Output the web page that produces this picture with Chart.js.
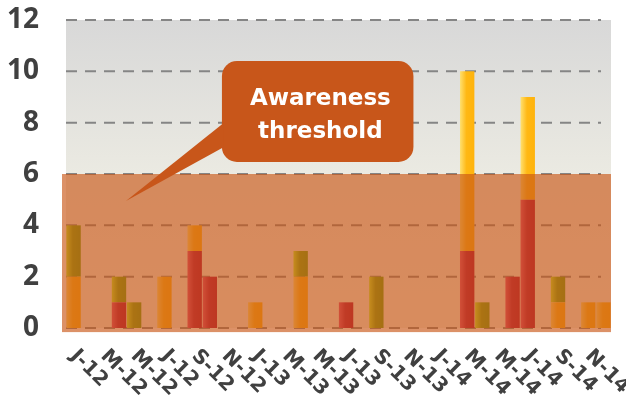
<!DOCTYPE html>
<html><head><meta charset="utf-8">
<script src="https://cdn.jsdelivr.net/npm/chart.js@4/dist/chart.umd.min.js"></script>
<style>html,body{margin:0;padding:0;background:#fff}#wrap{width:626px;height:395px;position:relative}canvas{display:block}</style>
</head><body><div id="wrap"><canvas id="c" width="626" height="395"></canvas></div>
<script>
// ---- data ----
const categories = ['2012-01','2012-02','2012-03','2012-04','2012-05','2012-06','2012-07','2012-08','2012-09','2012-10','2012-11','2012-12',
                    '2013-01','2013-02','2013-03','2013-04','2013-05','2013-06','2013-07','2013-08','2013-09','2013-10','2013-11','2013-12',
                    '2014-01','2014-02','2014-03','2014-04','2014-05','2014-06','2014-07','2014-08','2014-09','2014-10','2014-11','2014-12'];
const xTickLabels = ['J-12','','M-12','','M-12','','J-12','','S-12','','N-12','',
                     'J-13','','M-13','','M-13','','J-13','','S-13','','N-13','',
                     'J-14','','M-14','','M-14','','J-14','','S-14','','N-14',''];
const redValues    = [0,0,0,1,0,0,0,0,3,2,0,0, 0,0,0,0,0,0,1,0,0,0,0,0, 0,0,3,0,0,2,5,0,0,0,0,0];
const yellowValues = [2,0,0,0,0,0,2,0,1,0,0,0, 1,0,0,2,0,0,0,0,0,0,0,0, 0,0,7,0,0,0,4,0,1,0,1,1];
const greenValues  = [2,0,0,1,1,0,0,0,0,0,0,0, 0,0,0,1,0,0,0,0,2,0,0,0, 0,0,0,1,0,0,0,0,1,0,0,0];
const yTicks = [0,2,4,6,8,10,12];
const thresholdValue = 6;
const calloutLines = ['Awareness','threshold'];

// ---- styles ----
const BAR_PCT = 0.95;
const callout = {x0: 9.8, x1: 22.45, y0: 10.4, y1: 6.47, tipX: 3.46, tipY: 4.95, baseY0: 8.0, baseY1: 7.05,
                 textX: 16.3, lineY: [8.69, 7.40], color: '#c8561a', radius: 15};

function barGradient(stops) {
  return (ctx) => {
    const chart = ctx.chart;
    if (!chart.chartArea || ctx.type !== 'data') return stops[stops.length - 1][1];
    const x = chart.scales.x;
    const cx = x.getPixelForValue(ctx.dataIndex);
    const w = x.width / categories.length * BAR_PCT;
    const g = chart.ctx.createLinearGradient(cx - w / 2, 0, cx + w / 2, 0);
    stops.forEach(([o, c]) => g.addColorStop(o, c));
    return g;
  };
}

const bgPlugin = {
  id: 'bg',
  beforeDatasetsDraw(chart) {
    const {ctx, chartArea: a, scales: {y}} = chart;
    ctx.save();
    const g = ctx.createLinearGradient(0, a.top, 0, a.bottom);
    g.addColorStop(0, '#d8d8d8');
    g.addColorStop(0.5, '#ebeae2');
    g.addColorStop(1, '#f4f1e6');
    ctx.fillStyle = g;
    ctx.fillRect(a.left, a.top, a.right - a.left, a.bottom - a.top);
    ctx.strokeStyle = '#858585';
    ctx.lineWidth = 2;
    ctx.setLineDash([11, 8]);
    yTicks.forEach(v => {
      const py = y.getPixelForValue(v);
      ctx.beginPath();
      ctx.moveTo(a.left, py);
      ctx.lineTo(a.right - 10, py);
      ctx.stroke();
    });
    ctx.restore();
  },
  afterDatasetsDraw(chart) {
    const {ctx, chartArea: a, scales: {x, y}} = chart;
    ctx.save();
    // threshold band
    const top = y.getPixelForValue(thresholdValue);
    const bottom = y.getPixelForValue(-0.16);
    ctx.fillStyle = 'rgba(202,86,22,0.65)';
    ctx.fillRect(a.left - 4, top, a.right - a.left + 4, bottom - top);
    // callout
    const L = x.getPixelForValue(callout.x0), R = x.getPixelForValue(callout.x1);
    const T = y.getPixelForValue(callout.y0), B = y.getPixelForValue(callout.y1);
    ctx.fillStyle = callout.color;
    ctx.beginPath();
    ctx.roundRect(L, T, R - L, B - T, callout.radius);
    ctx.fill();
    ctx.beginPath();
    ctx.moveTo(L + 2, y.getPixelForValue(callout.baseY0));
    ctx.lineTo(x.getPixelForValue(callout.tipX), y.getPixelForValue(callout.tipY));
    ctx.lineTo(L + 2, y.getPixelForValue(callout.baseY1));
    ctx.closePath();
    ctx.fill();
    ctx.fillStyle = '#ffffff';
    ctx.font = 'bold 23px "DejaVu Sans"';
    ctx.textAlign = 'center';
    ctx.textBaseline = 'alphabetic';
    calloutLines.forEach((t, i) => ctx.fillText(t, x.getPixelForValue(callout.textX), y.getPixelForValue(callout.lineY[i])));
    ctx.restore();
  },
  afterDraw(chart) {
    const {ctx, chartArea: a, scales: {x}} = chart;
    ctx.save();
    ctx.fillStyle = '#404040';
    ctx.font = 'bold 20px "DejaVu Sans"';
    ctx.textAlign = 'left';
    ctx.textBaseline = 'top';
    xTickLabels.forEach((t, i) => {
      if (!t) return;
      const cx = x.getPixelForValue(i);
      ctx.save();
      ctx.translate(cx + 7, a.bottom + 18);
      ctx.rotate(Math.PI / 4);
      ctx.fillText(t, 0, 0);
      ctx.restore();
    });
    ctx.restore();
  }
};

new Chart(document.getElementById('c'), {
  type: 'bar',
  data: {
    labels: categories,
    datasets: [
      {label: 'Red', data: redValues, backgroundColor: barGradient([[0, '#e0457a'], [0.45, '#b00a45'], [1, '#a80038']])},
      {label: 'Yellow', data: yellowValues, backgroundColor: barGradient([[0, '#ffe070'], [0.45, '#ffb814'], [1, '#ffb30c']])},
      {label: 'Green', data: greenValues, backgroundColor: barGradient([[0, '#c0f030'], [0.45, '#74a810'], [1, '#64a010']])}
    ]
  },
  options: {
    responsive: false,
    animation: false,
    devicePixelRatio: 1,
    layout: {padding: {left: 0, right: 15, top: 20, bottom: 0}},
    datasets: {bar: {categoryPercentage: 1, barPercentage: BAR_PCT, borderWidth: 0}},
    plugins: {legend: {display: false}, tooltip: {enabled: false}},
    scales: {
      x: {
        stacked: true,
        grid: {display: false},
        border: {display: false},
        ticks: {display: false},
        afterFit(s) { s.height = 67; s.paddingLeft = 0; s.paddingRight = 0; }
      },
      y: {
        stacked: true,
        min: 0, max: 12,
        afterBuildTicks(s) { s.ticks = yTicks.map(v => ({value: v})); },
        grid: {display: false, drawTicks: false},
        border: {display: false},
        ticks: {padding: 27, color: '#404040', font: {family: '"Open Sans"', weight: 'bold', size: 28}},
        afterFit(s) { s.width = 66; s.paddingTop = 0; s.paddingBottom = 0; }
      }
    }
  },
  plugins: [bgPlugin]
});
</script></body></html>
